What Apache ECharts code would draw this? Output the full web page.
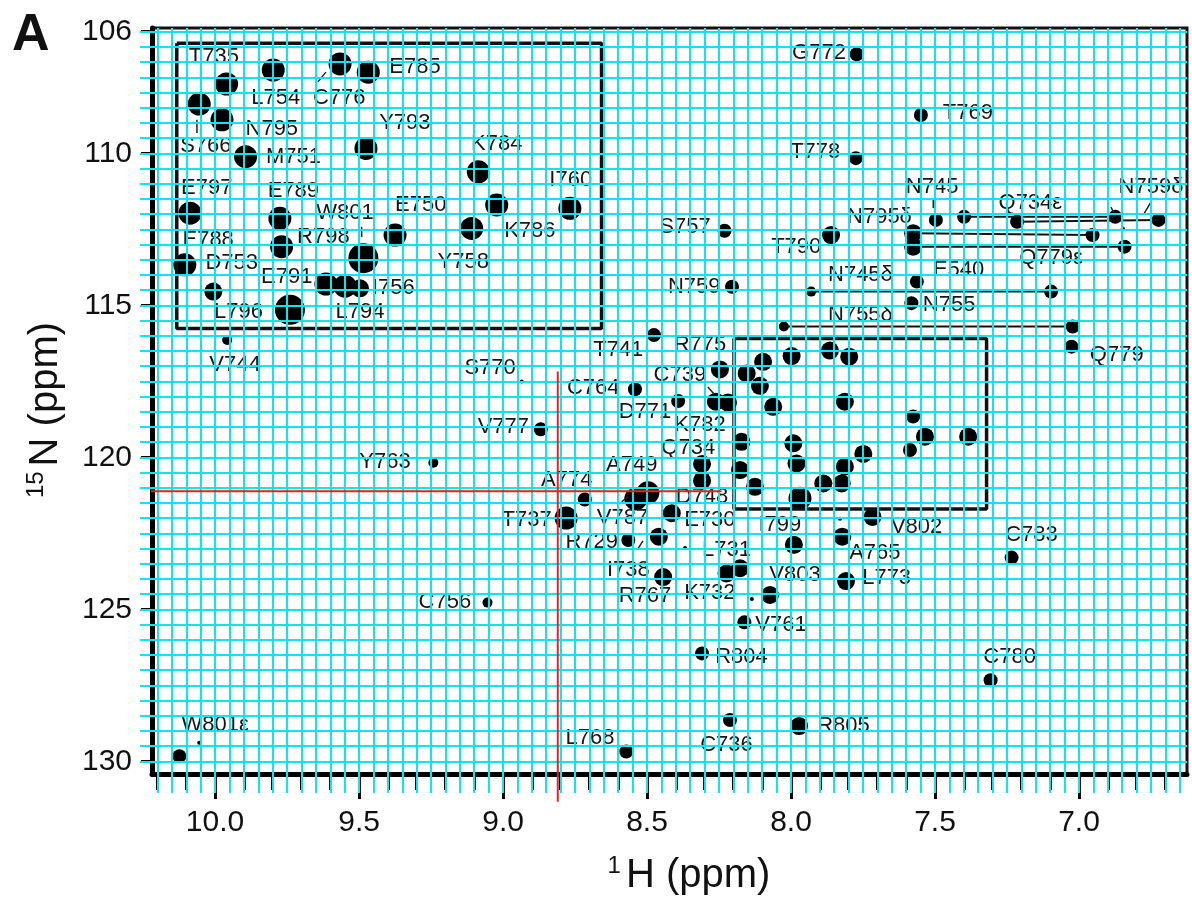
<!DOCTYPE html>
<html><head><meta charset="utf-8">
<script src="https://cdn.jsdelivr.net/npm/echarts@6/dist/echarts.min.js"></script>
<style>html,body{margin:0;padding:0;background:#fff}#c{width:1192px;height:901px}</style>
</head><body><div id="c"></div>
<script>
// ---------- DATA (ppm values) ----------
// tick labels
const xTickLabels = [10.0, 9.5, 9.0, 8.5, 8.0, 7.5, 7.0];
const yTickLabels = [106, 110, 115, 120, 125, 130];

// cross-peaks: 1H (ppm), 15N (ppm), relative intensity level (0 = faint ... 5 = strongest)
const peakH = [
  9.960, 9.798, 9.566, 9.468, 10.055, 9.976, 9.894, 9.476, 9.086, 8.768,
  9.022, 9.109, 9.375, 10.087, 9.775, 9.769, 9.485, 10.105, 10.006, 9.615,
  9.549, 9.497, 9.740, 9.958, 7.772, 7.549, 7.775, 7.497, 8.231, 7.861,
  8.205, 7.563, 7.582, 8.476, 8.247, 8.261, 8.219, 8.392, 8.542, 8.309,
  8.309, 8.497, 8.539, 8.716, 8.781, 8.414, 7.717, 8.565, 8.459, 8.444,
  8.177, 8.224, 7.990, 7.822, 7.809, 8.073, 8.162, 8.309, 7.307, 8.212,
  7.972, 8.572, 10.124, 10.055, 9.054, 9.242, 8.869, 8.935, 7.234, 7.026,
  8.368, 7.830, 8.136,
  8.097, 8.154, 8.108, 7.998, 7.865, 7.798, 8.062, 7.813, 7.576, 7.535, 7.385,
  7.587, 8.172, 7.992, 7.981, 8.177, 8.125, 7.749, 7.813, 7.888, 7.824, 7.969,
  8.025, 7.022, 7.930, 7.097, 7.399, 6.874, 7.215, 6.724, 6.848, 6.953, 6.842, 7.576, 7.576
];
const peakN = [
  107.72, 107.26, 107.06, 107.33, 108.38, 108.90, 110.11, 109.84, 110.61, 111.81,
  111.70, 112.47, 112.69, 111.97, 112.14, 113.07, 113.45, 113.67, 114.55, 114.30,
  114.37, 114.44, 115.15, 116.14, 106.74, 108.74, 110.16, 112.19, 112.55, 112.69,
  114.39, 114.22, 114.93, 115.98, 117.11, 118.17, 118.20, 118.15, 117.76, 120.22,
  120.77, 121.17, 121.37, 121.39, 122.00, 121.84, 121.96, 122.72, 122.61, 123.94,
  123.65, 123.82, 122.88, 122.61, 124.07, 124.53, 125.43, 126.45, 127.33, 128.64,
  128.84, 129.68, 129.83, 129.39, 124.78, 120.18, 119.08, 117.51, 123.30, 116.36,
  122.98, 122.02, 124.66,
  116.86, 117.24, 117.65, 116.67, 116.49, 116.69, 118.34, 118.17, 118.66, 119.32, 119.32,
  119.76, 119.49, 119.54, 120.20, 120.42, 120.97, 119.89, 120.31, 120.86, 120.86, 121.35,
  115.70, 115.70, 114.55, 114.55, 112.09, 112.09, 112.25, 112.19, 112.47, 112.69, 113.07, 112.63, 113.07
];
const peakLevel = [
  4,4,4,4,4,4,4,4,4,4,
  4,4,4,4,4,4,5,4,3,4,
  4,3,5,1,2,2,2,2,2,3,
  2,2,2,2,3,3,3,2,2,3,
  3,4,4,2,4,3,3,2,3,3,
  3,3,3,3,3,3,2,2,2,2,
  3,2,2,0,1,1,2,0,2,2,
  0,0,0,
  3,3,3,3,3,3,3,3,2,3,3,
  2,3,3,3,3,3,3,3,3,3,4,
  1,2,1,2,2,2,2,2,0,2,2,3,3
];

// assignment labels and their anchor positions (ppm)
const labelText = ['T735','L754','C776','E785','S766','N795','M751','Y793','K784','I760',
  'K786','Y758','E750','E797','E789','W801','R798','E788','D753','E791',
  'I756','L796','L794','V744','G772','T769','T778','N745','N795δ','Q734ε',
  'N759δ','S757','T790','Q779ε','N759','E540','N745δ','N755','N755δ','Q779',
  'T741','R775','C739','S770','C764','D771','K782','V777','Q734','Y763',
  'A749','A774','D748','T737','V787','E730','I799','V802','C783','R729',
  'L731','A765','I738','V803','L773','R767','K732','C756','V761','R804',
  'C780','L768','C736','R805','W801ε'];
const labelH = [10.004, 9.789, 9.569, 9.306, 10.032, 9.803, 9.728, 9.341, 9.022, 8.765,
  8.907, 9.138, 9.286, 10.029, 9.728, 9.549, 9.624, 10.024, 9.942, 9.751,
  9.381, 9.919, 9.497, 9.931, 7.903, 7.386, 7.916, 7.510, 7.693, 7.169,
  6.750, 8.368, 7.982, 7.097, 8.336, 7.418, 7.759, 7.451, 7.759, 6.869,
  8.600, 8.316, 8.386, 9.045, 8.687, 8.507, 8.316, 8.999, 8.357, 9.410,
  8.553, 8.779, 8.309, 8.918, 8.585, 8.282, 8.039, 7.564, 7.165, 8.692,
  8.224, 7.709, 8.565, 7.986, 7.668, 8.507, 8.282, 9.202, 8.035, 8.172,
  7.241, 8.698, 8.224, 7.818, 10.000];
const labelN = [106.82, 108.19, 108.19, 107.15, 109.76, 109.21, 110.11, 109.01, 109.69, 110.88,
  112.55, 113.57, 111.70, 111.15, 111.23, 111.95, 112.74, 112.85, 113.62, 114.06,
  114.44, 115.21, 115.21, 116.96, 106.71, 108.68, 109.95, 111.10, 112.09, 111.63,
  111.10, 112.43, 113.07, 113.45, 114.39, 113.84, 114.00, 114.99, 115.32, 116.64,
  116.47, 116.31, 117.29, 117.07, 117.73, 118.50, 118.94, 118.99, 119.70, 120.14,
  120.25, 120.75, 121.32, 122.06, 122.01, 122.06, 122.23, 122.29, 122.56, 122.79,
  123.05, 123.15, 123.71, 123.87, 123.97, 124.56, 124.47, 124.75, 125.50, 126.56,
  126.56, 129.24, 129.46, 128.84, 128.81];

// label-to-peak leader strokes (ppm end points)
const leadH1 = [9.643, 10.063, 9.491, 7.506, 7.399, 6.889, 6.775, 8.289, 8.588, 8.532];
const leadH2 = [9.615, 10.063, 9.491, 7.506, 7.399, 6.875, 6.750, 8.264, 8.565, 8.514];
const leadN1 = [107.65, 108.90, 112.42, 111.47, 111.54, 111.77, 112.00, 117.69, 121.46, 123.01];
const leadN2 = [107.33, 109.33, 112.75, 111.80, 111.87, 112.03, 111.60, 117.95, 121.30, 122.75];

// side-chain NH2 pairs (connected peaks)
const pairH1 = [8.025, 7.930, 7.399, 7.215, 7.576, 7.576];
const pairH2 = [7.022, 7.097, 6.874, 6.724, 6.953, 6.842];
const pairN1 = [115.70, 114.55, 112.09, 112.25, 112.63, 113.07];
const pairN2 = [115.70, 114.55, 112.09, 112.19, 112.69, 113.07];

// boxed regions (H left, H right, N top, N bottom)
const boxH1 = [10.133, 8.198];
const boxH2 = [8.658, 7.321];
const boxN1 = [106.38, 116.09];
const boxN2 = [115.76, 121.70];

// red reference cross-hair
const redH = 8.81, redN = 121.12;
const redVN = [117.18, 131.33];
const redHH = [10.225, 8.241];

// ---------- CHART ----------
const X_LEFT = 10.219, X_RIGHT = 6.625, Y_MIN = 105.878, Y_MAX = 130.418;
const CYAN = '#12e3ee';
const FONT = 'Liberation Sans, Arial, Helvetica, sans-serif';
const SIZE = [4, 10, 14, 18, 23, 30];

function steps(a, b, step) {
  const out = []; const n = Math.round(Math.abs(b - a) / step);
  for (let i = 0; i <= n; i++) out.push(+(a - i * step).toFixed(3));
  return out;
}
const xCyan = steps(10.2, 6.65, 0.05);
const xMinor = steps(10.2, 6.7, 0.1);
const yCyan = steps(130, 106, 0.5);

const baseX = {type: 'value', gridIndex: 0, min: X_RIGHT, max: X_LEFT, inverse: true, position: 'bottom',
  splitLine: {show: false}, axisLine: {show: false, onZero: false}, axisLabel: {show: false}, axisTick: {show: false}};
const baseY = {type: 'value', gridIndex: 0, min: Y_MIN, max: Y_MAX, inverse: true, position: 'left',
  splitLine: {show: false}, axisLine: {show: false, onZero: false}, axisLabel: {show: false}, axisTick: {show: false}};

const series = [];
series.push({
  type: 'scatter', name: 'peaks', z: 2, silent: true,
  data: peakH.map((h, i) => [h, peakN[i], peakLevel[i]]),
  symbol: 'circle', symbolSize: v => SIZE[v[2]],
  itemStyle: {color: '#000', opacity: 1}
});
series.push({
  type: 'scatter', name: 'labels', z: 3, silent: true,
  data: labelText.map((t, i) => ({name: t, value: [labelH[i], labelN[i]]})),
  symbolSize: 0, itemStyle: {opacity: 1},
  label: {show: true, position: 'inside', formatter: '{b}', color: '#161616', fontSize: 22, fontFamily: FONT}
});
for (let i = 0; i < leadH1.length; i++) {
  series.push({
    type: 'line', z: 3, silent: true, clip: false, symbol: 'none',
    data: [[leadH1[i], leadN1[i]], [leadH2[i], leadN2[i]]],
    lineStyle: {color: '#222', width: 1.5}
  });
}
for (let i = 0; i < boxH1.length; i++) {
  series.push({
    type: 'line', z: 3, silent: true, clip: false, symbol: 'none',
    data: [[boxH1[i], boxN1[i]], [boxH2[i], boxN1[i]], [boxH2[i], boxN2[i]], [boxH1[i], boxN2[i]], [boxH1[i], boxN1[i]]],
    lineStyle: {color: '#111', width: 3.5}
  });
}
for (let i = 0; i < pairH1.length; i++) {
  series.push({
    type: 'line', z: 3, silent: true, clip: false, symbol: 'none',
    data: [[pairH1[i], pairN1[i]], [pairH2[i], pairN2[i]]],
    lineStyle: {color: '#111', width: 2}
  });
}
series.push({type: 'line', z: 10, silent: true, clip: false, symbol: 'none',
  data: [[redH, redVN[0]], [redH, redVN[1]]], lineStyle: {color: '#ff1a1a', width: 2}});
series.push({type: 'line', z: 10, silent: true, clip: false, symbol: 'none',
  data: [[redHH[0], redN], [redHH[1], redN]], lineStyle: {color: '#ff1a1a', width: 2}});

const option = {
  animation: false,
  backgroundColor: '#fff',
  grid: {left: 152, top: 28, right: 5, bottom: 127, show: true, borderColor: '#111', borderWidth: 3, backgroundColor: 'transparent'},
  xAxis: [
    Object.assign({}, baseX, {
      axisLine: {show: true, onZero: false, lineStyle: {color: '#000', width: 5}},
      axisTick: {show: true, customValues: xTickLabels, length: 25, lineStyle: {color: '#000', width: 3}},
      axisLabel: {show: true, customValues: xTickLabels, formatter: v => v.toFixed(1), fontSize: 30, margin: 34, color: '#111', fontFamily: FONT}
    }),
    Object.assign({}, baseX, {
      axisTick: {show: true, customValues: xMinor, length: 16, lineStyle: {color: '#000', width: 3}}
    }),
    Object.assign({}, baseX, {
      z: 5,
      axisTick: {show: true, customValues: xCyan, length: 19, lineStyle: {color: CYAN, width: 2}},
      splitLine: {show: true, lineStyle: {color: CYAN, width: 2}}
    })
  ],
  yAxis: [
    Object.assign({}, baseY, {
      axisLine: {show: true, onZero: false, lineStyle: {color: '#000', width: 5}},
      axisTick: {show: true, customValues: yTickLabels, length: 11, lineStyle: {color: '#000', width: 3}},
      axisLabel: {show: true, customValues: yTickLabels, formatter: v => String(Math.round(v)), fontSize: 30, margin: 20, color: '#111', fontFamily: FONT}
    }),
    Object.assign({}, baseY, {
      z: 5,
      axisTick: {show: true, customValues: yCyan, length: 12, lineStyle: {color: CYAN, width: 2}},
      splitLine: {show: true, lineStyle: {color: CYAN, width: 2}}
    })
  ],
  series: series,
  graphic: [
    {type: 'text', left: 12, top: 10, z: 20, style: {text: 'A', fontSize: 52, fontWeight: 'bold', fill: '#111', fontFamily: FONT}},
    {type: 'text', x: 689, y: 876, z: 20, style: {
      text: '{s|1}{b|H (ppm)}', align: 'center', verticalAlign: 'middle', fill: '#111', fontFamily: FONT,
      rich: {s: {fontSize: 24, verticalAlign: 'top', lineHeight: 44, fontFamily: FONT, fill: '#111', padding: [0, 5, 16, 0]},
             b: {fontSize: 40, lineHeight: 44, fontFamily: FONT, fill: '#111'}}}},
    {type: 'text', x: 46, y: 410, rotation: Math.PI / 2, z: 20, style: {
      text: '{s|15}{b|N (ppm)}', align: 'center', verticalAlign: 'middle', fill: '#111', fontFamily: FONT,
      rich: {s: {fontSize: 24, verticalAlign: 'top', lineHeight: 44, fontFamily: FONT, fill: '#111', padding: [0, 5, 16, 0]},
             b: {fontSize: 40, lineHeight: 44, fontFamily: FONT, fill: '#111'}}}}
  ]
};
const chart = echarts.init(document.getElementById('c'), null, {renderer: 'canvas', width: 1192, height: 901});
chart.setOption(option);
</script>
</body></html>
